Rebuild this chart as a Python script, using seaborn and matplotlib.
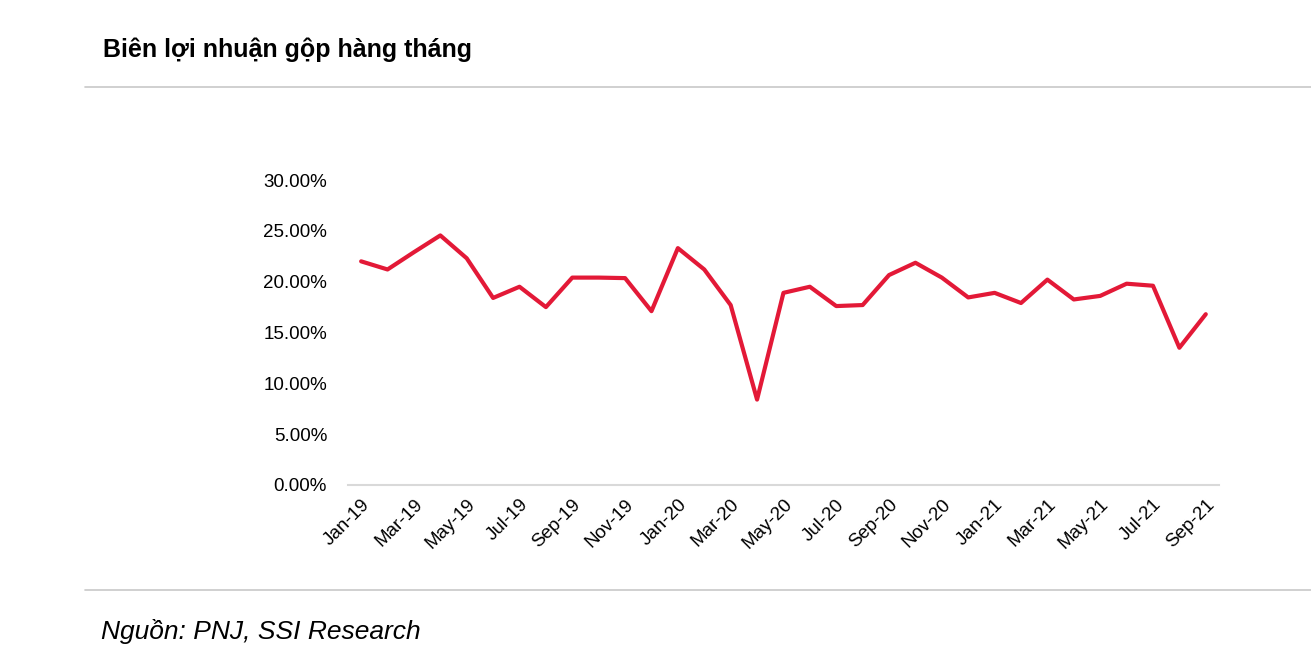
import matplotlib
matplotlib.use("Agg")
import matplotlib.pyplot as plt
import seaborn as sns
import pandas as pd
from matplotlib.ticker import FuncFormatter

months = ["Jan", "Feb", "Mar", "Apr", "May", "Jun", "Jul", "Aug", "Sep", "Oct", "Nov", "Dec"]
labels = [m + "-" + y for y in ["19", "20", "21"] for m in months][:33]
margin = [22.0, 21.2, 22.9, 24.55, 22.3, 18.4, 19.5, 17.5, 20.4, 20.4, 20.35, 17.1,
          23.3, 21.2, 17.7, 8.4, 18.9, 19.5, 17.6, 17.7, 20.65, 21.86, 20.4, 18.45,
          18.9, 17.9, 20.2, 18.25, 18.6, 19.8, 19.6, 13.5, 16.8]

df = pd.DataFrame({"month": labels, "margin": [v / 100 for v in margin]})
df["pos"] = range(len(df))

sns.set_style("white")
narrow = ["Liberation Sans Narrow", "Liberation Sans", "DejaVu Sans"]
plt.rcParams["font.family"] = narrow
plt.rcParams["text.color"] = "black"

fig = plt.figure(figsize=(13.11, 6.64), dpi=100)
ax = fig.add_axes([0.2654, 0.2696, 0.6644, 0.4593])
sns.lineplot(data=df, x="pos", y="margin", color="#E31937", linewidth=3.0, ax=ax)

ax.set_xlim(-0.5, len(df) - 0.5)
ax.set_ylim(0, 0.30)
ax.set_yticks([0, 0.05, 0.10, 0.15, 0.20, 0.25, 0.30])
ax.yaxis.set_major_formatter(FuncFormatter(lambda v, p: f"{v*100:.2f}%"))
ax.set_xticks(df["pos"][::2])
ax.set_xticklabels(df["month"][::2], rotation=45, ha="right", rotation_mode="anchor")
ax.tick_params(axis="both", length=0, labelsize=13.5, colors="black")
ax.tick_params(axis="x", pad=8)
ax.tick_params(axis="y", pad=15)
ax.set_xlabel("")
ax.set_ylabel("")
for s in ["top", "right", "left"]:
    ax.spines[s].set_visible(False)
ax.spines["bottom"].set_color("#d9d9d9")
ax.spines["bottom"].set_linewidth(1.5)

fig.text(103 / 1311, 1 - 50 / 664, "Biên lợi nhuận gộp hàng tháng", fontsize=18,
         fontweight="bold", ha="left", va="center", color="black", family=narrow)
fig.add_artist(plt.Line2D([85 / 1311, 1], [1 - 87 / 664] * 2, color="#c8c8c8", linewidth=1.2))
fig.add_artist(plt.Line2D([85 / 1311, 1], [1 - 590 / 664] * 2, color="#c8c8c8", linewidth=1.2))
fig.text(101 / 1311, 1 - 632 / 664, "Nguồn: PNJ, SSI Research", fontsize=19,
         style="italic", ha="left", va="center", color="black", family=narrow)

fig.savefig("out.png", dpi=100)
